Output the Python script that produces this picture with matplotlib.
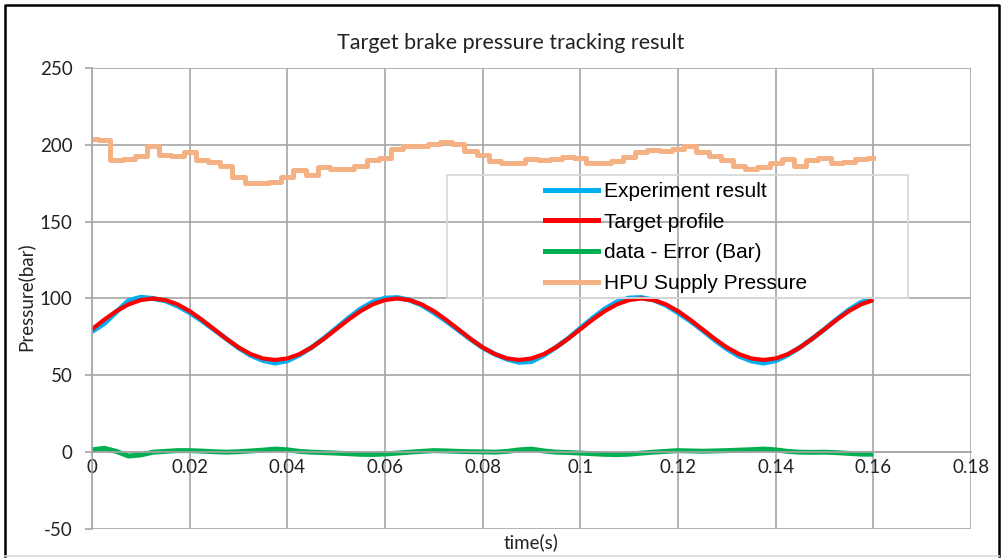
import numpy as np
import matplotlib.pyplot as plt
from matplotlib.patches import Rectangle
from matplotlib.lines import Line2D

plt.rcParams['axes.unicode_minus'] = False

# time base of the readings (s), one reading every 0.0025 s
t = np.arange(65) * 0.0025

target = [80, 86.2, 91.8, 96.2, 99.0, 100, 99.0, 96.2, 91.8, 86.2,
          80, 73.8, 68.2, 63.8, 61.0, 60, 61.0, 63.8, 68.2, 73.8,
          80, 86.2, 91.8, 96.2, 99.0, 100, 99.0, 96.2, 91.8, 86.2,
          80, 73.8, 68.2, 63.8, 61.0, 60, 61.0, 63.8, 68.2, 73.8,
          80, 86.2, 91.8, 96.2, 99.0, 100, 99.0, 96.2, 91.8, 86.2,
          80, 73.8, 68.2, 63.8, 61.0, 60, 61.0, 63.8, 68.2, 73.8,
          80, 86.2, 91.8, 96.2, 99.0]

experiment = [78.5, 83.7, 91.3, 98.7, 100.8, 100, 98.5, 95.2, 90.8, 85.5,
              79.7, 73.8, 67.9, 63.0, 59.7, 58.0, 59.5, 63.3, 68.2, 74.1,
              80.6, 87.2, 93.2, 97.7, 100.2, 100.6, 99.0, 95.7, 90.8, 85.4,
              79.5, 73.5, 68.0, 63.8, 60.5, 58.5, 59.0, 63.0, 68.2, 74.0,
              80.6, 87.2, 93.2, 97.8, 100.3, 100.6, 99.0, 95.7, 90.8, 85.4,
              79.4, 73.0, 67.2, 62.5, 59.4, 58.0, 59.5, 63.3, 68.2, 73.9,
              80.0, 86.5, 92.6, 97.5, 99.5]

error = [1.5, 2.5, 0.5, -2.5, -1.8, 0, 0.5, 1, 1, 0.7,
         0.3, 0, 0.3, 0.8, 1.3, 2, 1.5, 0.5, 0, -0.3,
         -0.6, -1.0, -1.4, -1.5, -1.2, -0.6, 0, 0.5, 1, 0.8,
         0.5, 0.3, 0.2, 0, 0.5, 1.5, 2, 0.8, 0, -0.2,
         -0.6, -1.0, -1.4, -1.6, -1.3, -0.6, 0, 0.5, 1, 0.8,
         0.6, 0.8, 1, 1.3, 1.6, 2, 1.5, 0.5, 0, -0.1,
         0, -0.3, -0.8, -1.3, -1.3]

hpu = [203.5, 203, 190, 191, 192.5, 199.5, 193.5, 192.5, 195.5, 190,
       189, 186, 179, 175, 175, 175.5, 179, 183.5, 180.5, 185.5,
       184, 184.5, 186, 190, 191.5, 197, 199, 199.5, 200.5, 202,
       200.5, 196, 193.5, 189.5, 188, 188.5, 191, 190, 191, 192.3,
       191.3, 188, 188.5, 189.5, 192, 195.5, 196.5, 196, 197, 199,
       195.5, 193, 190, 186, 184, 185.5, 188, 191, 186.5, 190,
       191.5, 188.5, 189, 190.5, 191.2]

series_names = ['Experiment result', 'Target profile', 'data - Error (Bar)', 'HPU Supply Pressure']
series_colors = ['#00B0F0', '#FF0000', '#00B050', '#F4B183']

xticks = np.arange(10) * 0.02
xtick_labels = ['0', '0.02', '0.04', '0.06', '0.08', '0.1', '0.12', '0.14', '0.16', '0.18']
yticks = [-50, 0, 50, 100, 150, 200, 250]

W, H = 1001, 559
fig = plt.figure(figsize=(W / 100, H / 100), dpi=100)
ax = fig.add_axes([92 / W, 1 - 529 / H, (971 - 92) / W, (529 - 68) / H])

ax.plot(t, experiment, color=series_colors[0], lw=3.6, solid_capstyle='butt')
ax.plot(t, target, color=series_colors[1], lw=3.0, solid_capstyle='butt')
ax.plot(t, error, color=series_colors[2], lw=3.6, solid_capstyle='butt')
ax.plot(t, hpu, color=series_colors[3], lw=3.6, drawstyle='steps-mid')

ax.set_xlim(0, 0.18)
ax.set_ylim(-50, 250)
ax.set_xticks(xticks)
ax.set_xticklabels(xtick_labels)
ax.set_yticks(yticks)

grid_c = '#A6A6A6'
ax.grid(True, color=grid_c, lw=1.2)
ax.set_axisbelow(True)
for s in ['top', 'right']:
    ax.spines[s].set_visible(False)
ax.spines['left'].set_color(grid_c)
ax.spines['left'].set_linewidth(1.2)
ax.spines['bottom'].set_position(('data', 0))
ax.spines['bottom'].set_color(grid_c)
ax.spines['bottom'].set_linewidth(1.2)

ax.tick_params(axis='y', length=5, color=grid_c, width=1.2, pad=9, labelsize=13.5, labelcolor='#222222')
ax.tick_params(axis='x', length=0, pad=5, labelsize=13.5, labelcolor='#222222')
for lab in ax.get_xticklabels() + ax.get_yticklabels():
    lab.set_family('Lato')

ax.set_xlabel('time(s)', family='Lato', fontsize=13.5, color='#222222')
ax.xaxis.set_label_coords(0.5, -0.01)
ax.set_ylabel('Pressure(bar)', family='Lato', fontsize=13.5, color='#222222')
ax.yaxis.set_label_coords(-(92 - 25) / (971 - 92), (529 - 297) / (529 - 68))
ax.yaxis.label.set_va('center')

fig.text(511 / W, 1 - 43 / H, 'Target brake pressure tracking result',
         family='Lato', fontsize=15.5, ha='center', va='center', color='#222222')

# legend (no fill, light frame drawn separately)
handles = [Line2D([], [], color=c, lw=3.6) for c in series_colors]
fig.legend(handles, series_names, loc='upper left', frameon=False,
           bbox_to_anchor=(545 / W, 1 - 182 / H), borderpad=0, borderaxespad=0,
           handlelength=2.55, handletextpad=0.3, labelspacing=0.56,
           prop={'family': 'Liberation Sans', 'size': 15})
fig.patches.append(Rectangle((447 / W, 1 - 298 / H), (908 - 447) / W, (298 - 175) / H,
                             transform=fig.transFigure, fill=False, ec='#D9D9D9', lw=1.3))

# outer chart border
fig.add_artist(Line2D([5 / W, 5 / W, 999 / W, 999 / W], [1 - 556 / H, 1 - 5 / H, 1 - 5 / H, 1 - 556 / H],
                      transform=fig.transFigure, color='black', lw=1.8))
fig.add_artist(Line2D([5 / W, 999 / W], [1 - 556 / H, 1 - 556 / H],
                      transform=fig.transFigure, color='#D9D9D9', lw=1.2))

fig.savefig('out.png', dpi=100)
